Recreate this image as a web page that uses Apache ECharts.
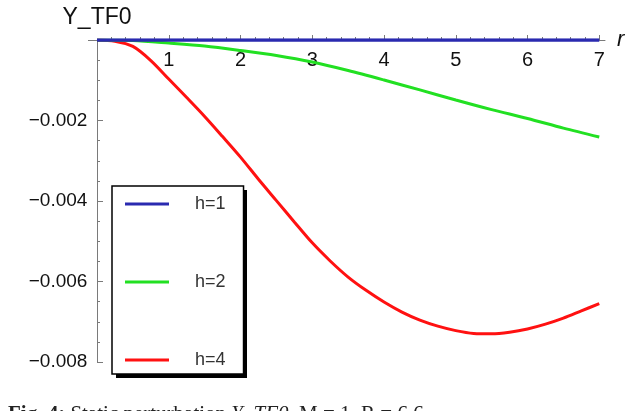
<!DOCTYPE html>
<html>
<head>
<meta charset="utf-8">
<title>Y_TF0 vs r</title>
<script src="https://cdn.jsdelivr.net/npm/echarts@6/dist/echarts.min.js"></script>
<style>
  html, body { margin: 0; padding: 0; background: #fff; }
  #chart { width: 640px; height: 411px; }
</style>
</head>
<body>
<div id="chart"></div>
<script>
// Curves of Y_TF0 against the radial coordinate r, one per h
const rBlue = [0, 1, 2, 3, 4, 5, 6, 7];
const yBlue = [0, 0, 0, 0, 0, 0, 0, 0];

const rGreen = [0, 0.5, 1, 1.5, 2, 2.5, 3, 3.5, 4, 4.5, 5, 5.5, 6, 6.5, 7];
const yGreen = [0, -0.000012, -0.000075, -0.000149, -0.00026, -0.000385, -0.000547, -0.000758,
                -0.000994, -0.00124, -0.00149, -0.00173, -0.00195, -0.00219, -0.00241];

const rRed = [0, 0.25, 0.5, 0.75, 1, 1.25, 1.5, 1.75, 2, 2.25, 2.5, 2.75, 3, 3.25, 3.5, 3.75,
              4, 4.25, 4.5, 4.75, 5, 5.25, 5.5, 5.75, 6, 6.25, 6.5, 6.75, 7];
const yRed = [0, -0.00003, -0.00016, -0.00051, -0.00097, -0.00143, -0.0019, -0.0024, -0.00291,
              -0.00346, -0.00399, -0.00452, -0.00504, -0.00549, -0.00589, -0.00622,
              -0.00651, -0.00676, -0.00696, -0.00711, -0.00722, -0.00729, -0.0073, -0.00726,
              -0.00718, -0.00706, -0.00691, -0.00673, -0.00655];

const seriesNames = ['h=1', 'h=2', 'h=4'];
const xMajorTicks = [1, 2, 3, 4, 5, 6, 7];
const xMinorTicks = [];
for (let i = 1; i <= 35; i++) { if (i % 5 !== 0) xMinorTicks.push(+(i * 0.2).toFixed(1)); }

const sansFont = "'Liberation Sans', Arial, sans-serif";
const serifFont = "'Liberation Serif', 'Times New Roman', serif";
const axisGray = '#7a7a7a';

function pairs(xs, ys) { return xs.map((x, i) => [x, ys[i]]); }

const chart = echarts.init(document.getElementById('chart'), null, { renderer: 'canvas' });

chart.setOption({
  animation: false,
  backgroundColor: '#fff',
  // y runs from -0.008 up to 0, so the top edge of the grid is the line y = 0
  grid: { left: 88.4, right: 35, top: 40, bottom: 49, containLabel: false },
  xAxis: [{
    type: 'value', min: -0.12, max: 7.08, position: 'top',
    name: 'r', nameLocation: 'end', nameGap: 12,
    nameTextStyle: { fontFamily: sansFont, fontStyle: 'italic', fontSize: 22, color: '#111', verticalAlign: 'middle', padding: [0, 0, 4, 0] },
    axisLine: { onZero: false, lineStyle: { color: axisGray, width: 1 } },
    axisTick: { inside: false, length: 5, customValues: xMajorTicks, lineStyle: { color: axisGray } },
    axisLabel: { inside: true, customValues: xMajorTicks, margin: 10, fontFamily: sansFont, fontSize: 20, color: '#111' },
    splitLine: { show: false }
  }, {
    type: 'value', min: -0.12, max: 7.08, position: 'top',
    axisLine: { show: false, onZero: false },
    axisTick: { inside: false, length: 3, customValues: xMinorTicks, lineStyle: { color: axisGray } },
    axisLabel: { show: false },
    splitLine: { show: false }
  }],
  yAxis: {
    type: 'value', min: -0.008, max: 0, interval: 0.002,
    name: 'Y_TF0', nameLocation: 'end', nameGap: 11,
    nameTextStyle: { fontFamily: sansFont, fontSize: 23, color: '#111', align: 'center' },
    axisLine: { onZero: true, onZeroAxisIndex: 0, lineStyle: { color: axisGray, width: 1 } },
    axisTick: { inside: true, length: 6, lineStyle: { color: axisGray } },
    minorTick: { show: true, splitNumber: 4, length: 3, lineStyle: { color: axisGray } },
    axisLabel: {
      margin: 1, fontFamily: sansFont, fontSize: 19, color: '#111',
      formatter: v => (v === 0 ? '' : '\u2212' + Math.abs(v).toFixed(3))
    },
    splitLine: { show: false },
    minorSplitLine: { show: false }
  },
  legend: {
    orient: 'vertical', left: 112, top: 186, z: 10,
    data: seriesNames,
    icon: 'rect', itemWidth: 44, itemHeight: 3, itemGap: 58,
    padding: [8, 18, 4, 13],
    backgroundColor: '#fff', borderColor: '#000', borderWidth: 1.5,
    textStyle: { fontFamily: sansFont, fontSize: 18, color: '#333', lineHeight: 20, padding: [0, 0, 0, 21] }
  },
  series: [
    {
      name: 'h=4', type: 'line', data: pairs(rRed, yRed), smooth: 0.3,
      showSymbol: false, color: '#ff1111', lineStyle: { width: 3 }, z: 2
    },
    {
      name: 'h=2', type: 'line', data: pairs(rGreen, yGreen), smooth: 0.3,
      showSymbol: false, color: '#22e022', lineStyle: { width: 3 }, z: 3
    },
    {
      name: 'h=1', type: 'line', data: pairs(rBlue, yBlue),
      showSymbol: false, color: '#2a2ab0', lineStyle: { width: 3.5 }, z: 4
    }
  ],
  graphic: [
    // hard drop shadow behind the legend box
    { type: 'rect', z: 1, silent: true, shape: { x: 116, y: 190, width: 131, height: 188 }, style: { fill: '#000' } },
    {
      type: 'text', left: 8, top: 404, silent: true,
      style: {
        text: '{b|Fig. 4:} Static perturbation {i|Y_TF0}, M = 1, R = 6.6',
        fontFamily: serifFont, fontSize: 21, fill: '#222',
        rich: {
          b: { fontFamily: serifFont, fontSize: 21, fontWeight: 'bold', color: '#222' },
          i: { fontFamily: serifFont, fontSize: 21, fontStyle: 'italic', color: '#222' }
        }
      }
    }
  ]
});
</script>
</body>
</html>
